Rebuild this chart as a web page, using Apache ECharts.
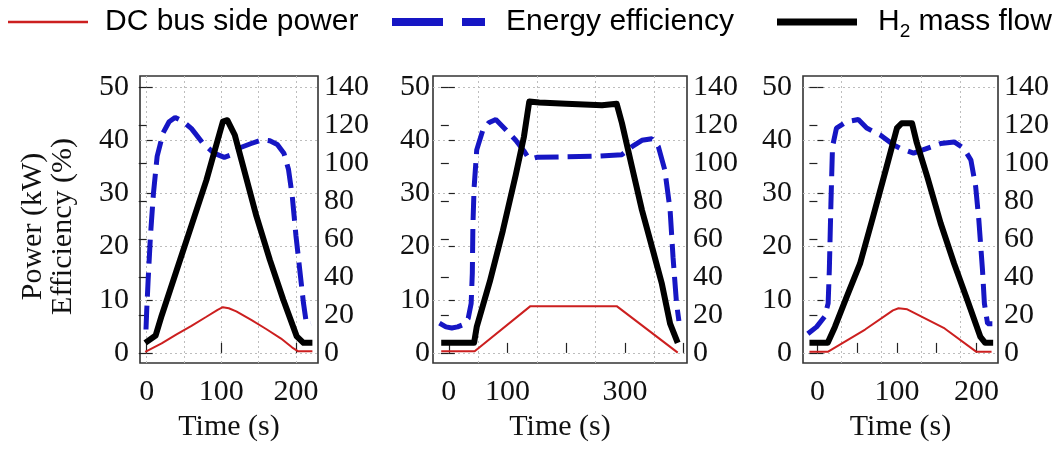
<!DOCTYPE html>
<html><head><meta charset="utf-8">
<script src="https://cdn.jsdelivr.net/npm/echarts@6/dist/echarts.min.js"></script>
<style>html,body{margin:0;padding:0;background:#fff}#c{width:1060px;height:452px}</style>
</head><body><div id="c"></div>
<script>
// ---------- data ----------
const seriesNames = ['DC bus side power', 'Energy efficiency', 'H2 mass flow'];

// Panel A
const aPowerT = [-2, 20, 40, 60, 80, 95, 102, 110, 120, 140, 160, 180, 195, 203, 222];
const aPower  = [0.2, 1.8, 3.5, 5.1, 6.8, 8.1, 8.6, 8.4, 7.8, 6.2, 4.5, 2.7, 1.0, 0.3, 0.3];
const aEffT = [-1, 0, 2, 5, 9, 14, 22, 30, 38, 48, 60, 75, 90, 104, 112, 125, 140, 155, 165, 175, 184, 190, 195, 200, 205, 210, 214, 220];
const aEff  = [4.4, 8, 14, 22, 30, 37, 41.4, 43.5, 44.3, 43.6, 42.2, 39.5, 37.6, 36.8, 37.2, 38.6, 39.4, 40.1, 39.9, 39.2, 37.5, 34.5, 29.5, 22, 15.7, 9.4, 5.5, 5.6];
const aH2T = [-2, 12, 20, 40, 60, 80, 95, 102, 108, 118, 128, 147, 165, 183, 201, 210, 222];
const aH2  = [5.3, 9.2, 19.6, 43.4, 67.2, 91, 112, 121.8, 122.6, 114.8, 100, 72, 49, 28, 8.7, 5.3, 5.3];

// Panel B
const bPowerT = [-13, 44, 139, 286, 390];
const bPower  = [0.3, 0.3, 8.8, 8.8, 0.05];
const bEffT = [-16, -5, 5, 15, 24, 33, 38, 40, 41, 43, 47.5, 57.6, 68, 80, 97, 114, 128, 135, 140, 150, 200, 250, 295, 312, 329, 346, 357, 368, 377, 382, 388, 392];
const bEff  = [5.6, 4.9, 4.7, 4.9, 5.3, 6.5, 9.3, 15, 24, 31, 38.2, 41.8, 43.3, 43.9, 42, 40, 38, 36.8, 36.5, 36.8, 36.9, 37.0, 37.3, 38.8, 40, 40.3, 38.8, 34.4, 26.9, 18, 9.3, 6];
const bH2T = [-13, 43, 47.5, 70, 92, 114, 128, 137, 154, 200, 261, 286, 295, 312, 329, 346, 363, 377, 390];
const bH2  = [5.3, 5.3, 13.7, 37.8, 64.4, 93.8, 114, 132.4, 131.9, 131.3, 130.5, 131.3, 121, 98, 75.3, 56, 36.4, 15.4, 5.3];

// Panel C
const cPowerT = [-10, 13, 60, 95, 102, 113, 160, 200, 219];
const cPower  = [0.2, 0.2, 4.4, 8.0, 8.4, 8.2, 4.6, 0.2, 0.2];
const cEffT = [-12, -1, 9, 13.5, 15, 17, 19, 24, 36.7, 51.5, 62, 79, 96, 104, 121, 138, 155, 172, 184, 193, 199, 203, 207.6, 210, 214, 220];
const cEff  = [3.6, 4.9, 6.8, 9.3, 15.6, 28, 38.8, 42.3, 43.5, 43.9, 42.3, 41, 39.1, 38.5, 37.6, 38.5, 39.4, 39.7, 38.5, 36.3, 31.3, 25, 15.6, 9.3, 5.5, 5.5];
const cH2T = [-10, 13, 22, 36.7, 53.6, 70, 87, 100, 106, 119, 125, 138, 155, 172, 188.6, 205, 211, 221];
const cH2  = [5.3, 5.3, 13.7, 29.4, 47, 71.7, 98, 118.4, 121, 121, 110.6, 93, 68.3, 47, 27.7, 8.4, 5.3, 5.3];

// Tick values
const xTicksA = [0, 100, 200], xLabelsA = [0, 100, 200], xGridA = [0, 50, 100, 150, 200];
const xTicksB = [0, 100, 200, 300, 400], xLabelsB = [0, 100, 300], xGridB = [50, 150, 250, 350];
const xTicksC = [0, 50, 100, 150, 200], xLabelsC = [0, 100, 200], xGridC = [30, 80, 130, 180];
const leftTicks = [0, 10, 20, 30, 40, 50];
const rightTicks = [0, 20, 40, 60, 80, 100, 120, 140];

// ---------- layout ----------
const SERIF = 'Liberation Serif';
const panels = [
  { grid: {left: 140, top: 76, width: 178, height: 287}, xr: [-9, 229.5], ticks: xTicksA, labels: xLabelsA, gridV: xGridA,
    p: [aPowerT, aPower], e: [aEffT, aEff], h: [aH2T, aH2], lm: 11, yname: true },
  { grid: {left: 433, top: 76, width: 254, height: 287}, xr: [-27, 405.8], ticks: xTicksB, labels: xLabelsB, gridV: xGridB,
    p: [bPowerT, bPower], e: [bEffT, bEff], h: [bH2T, bH2], lm: 3 },
  { grid: {left: 803, top: 76, width: 195, height: 287}, xr: [-18.1, 227.1], ticks: xTicksC, labels: xLabelsC, gridV: xGridC,
    p: [cPowerT, cPower], e: [cEffT, cEff], h: [cH2T, cH2], lm: 11 }
];
const LMIN = -1.9, LMAX = 52.1, RATIO = 2.8;
const COLORS = ['#cc1f1f', '#1616c4', '#000000'];
const pairs = (t, v) => t.map((x, i) => [x, v[i]]);
const dotted = {show: true, lineStyle: {color: '#bdbdbd', type: [2, 3], width: 1}};
const labelStyle = {fontFamily: SERIF, fontSize: 30, color: '#111'};

const grids = [], xAxes = [], yAxes = [], series = [];
panels.forEach((pn, i) => {
  grids.push(Object.assign({show: true, borderColor: '#333', borderWidth: 1.6, backgroundColor: 'transparent'}, pn.grid));
  // visible x axis
  xAxes.push({
    type: 'value', gridIndex: i, position: 'bottom', min: pn.xr[0], max: pn.xr[1],
    axisLine: {show: false},
    axisTick: {show: true, inside: true, length: 10, customValues: pn.ticks, lineStyle: {color: '#222', width: 1.2}},
    axisLabel: Object.assign({customValues: pn.labels, margin: 14}, labelStyle),
    splitLine: {show: false},
    name: 'Time (s)', nameLocation: 'middle', nameGap: 49,
    nameTextStyle: {fontFamily: SERIF, fontSize: 30, color: '#111'}
  });
  // hidden x axis for vertical grid lines
  xAxes.push({
    type: 'value', gridIndex: i, position: 'top', min: pn.xr[0], max: pn.xr[1],
    axisLine: {show: false}, axisLabel: {show: false},
    axisTick: {show: false, customValues: pn.gridV},
    splitLine: dotted
  });
  // left y axis
  yAxes.push(Object.assign({
    type: 'value', gridIndex: i, position: 'left', min: LMIN, max: LMAX,
    axisLine: {show: false},
    axisTick: {show: true, inside: true, length: 6, customValues: leftTicks, lineStyle: {color: '#222', width: 1.2}},
    axisLabel: Object.assign({customValues: leftTicks, margin: pn.lm}, labelStyle),
    splitLine: dotted
  }, pn.yname ? {
    name: 'Power (kW)\nEfficiency (%)', nameLocation: 'middle', nameRotate: 90, nameGap: 62,
    nameTextStyle: {fontFamily: SERIF, fontSize: 30, lineHeight: 30, color: '#111', align: 'center', padding: [0, 14, 0, 0]}
  } : {}));
  // right y axis
  yAxes.push({
    type: 'value', gridIndex: i, position: 'right', min: LMIN * RATIO, max: LMAX * RATIO,
    axisLine: {show: false},
    axisTick: {show: true, inside: true, length: 8, customValues: rightTicks, lineStyle: {color: '#222', width: 1.2}},
    axisLabel: Object.assign({customValues: rightTicks, margin: 6}, labelStyle),
    splitLine: {show: false}
  });
  series.push({
    type: 'line', name: seriesNames[0], xAxisIndex: 2 * i, yAxisIndex: 2 * i, symbol: 'none',
    data: pairs(pn.p[0], pn.p[1]), itemStyle: {color: COLORS[0]},
    lineStyle: {color: COLORS[0], width: 2}, z: 3
  });
  series.push({
    type: 'line', name: seriesNames[1], xAxisIndex: 2 * i, yAxisIndex: 2 * i, symbol: 'none',
    data: pairs(pn.e[0], pn.e[1]), itemStyle: {color: COLORS[1]},
    lineStyle: {color: COLORS[1], width: 5, type: [24, 9]}, z: 4
  });
  series.push({
    type: 'line', name: seriesNames[2], xAxisIndex: 2 * i, yAxisIndex: 2 * i + 1, symbol: 'none',
    data: pairs(pn.h[0], pn.h[1]), itemStyle: {color: COLORS[2]},
    lineStyle: {color: COLORS[2], width: 6, join: 'round'}, z: 5
  });
});

const legendText = {fontFamily: 'Liberation Sans', fontSize: 30, lineHeight: 38, color: '#000',
  rich: {sub: {fontFamily: 'Liberation Sans', fontSize: 19, lineHeight: 19, color: '#000', verticalAlign: 'bottom'}}};
const legends = [
  {left: 8, data: [seriesNames[0]], w: 80, h: 2.5, icon: 'path://M0,0h80v2.5h-80z', pad: 12},
  {left: 392, data: [seriesNames[1]], w: 93, h: 8, icon: 'path://M0,0h51v8h-51zM70,0h23v8h-23z', pad: 16},
  {left: 777, data: [seriesNames[2]], w: 80, h: 7, icon: 'path://M0,0h80v7h-80z', pad: 16}
].map(l => ({
  left: l.left, top: 3, padding: 0, data: l.data, itemWidth: l.w, itemHeight: l.h,
  icon: l.icon, selectedMode: false, itemStyle: {borderWidth: 0},
  textStyle: Object.assign({padding: [0, 0, 0, l.pad]}, legendText),
  formatter: name => name === 'H2 mass flow' ? 'H{sub|2} mass flow' : name
}));

const chart = echarts.init(document.getElementById('c'), null, {renderer: 'canvas'});
chart.setOption({
  animation: false,
  backgroundColor: '#fff',
  legend: legends,
  grid: grids,
  xAxis: xAxes,
  yAxis: yAxes,
  series: series
});
</script></body></html>
